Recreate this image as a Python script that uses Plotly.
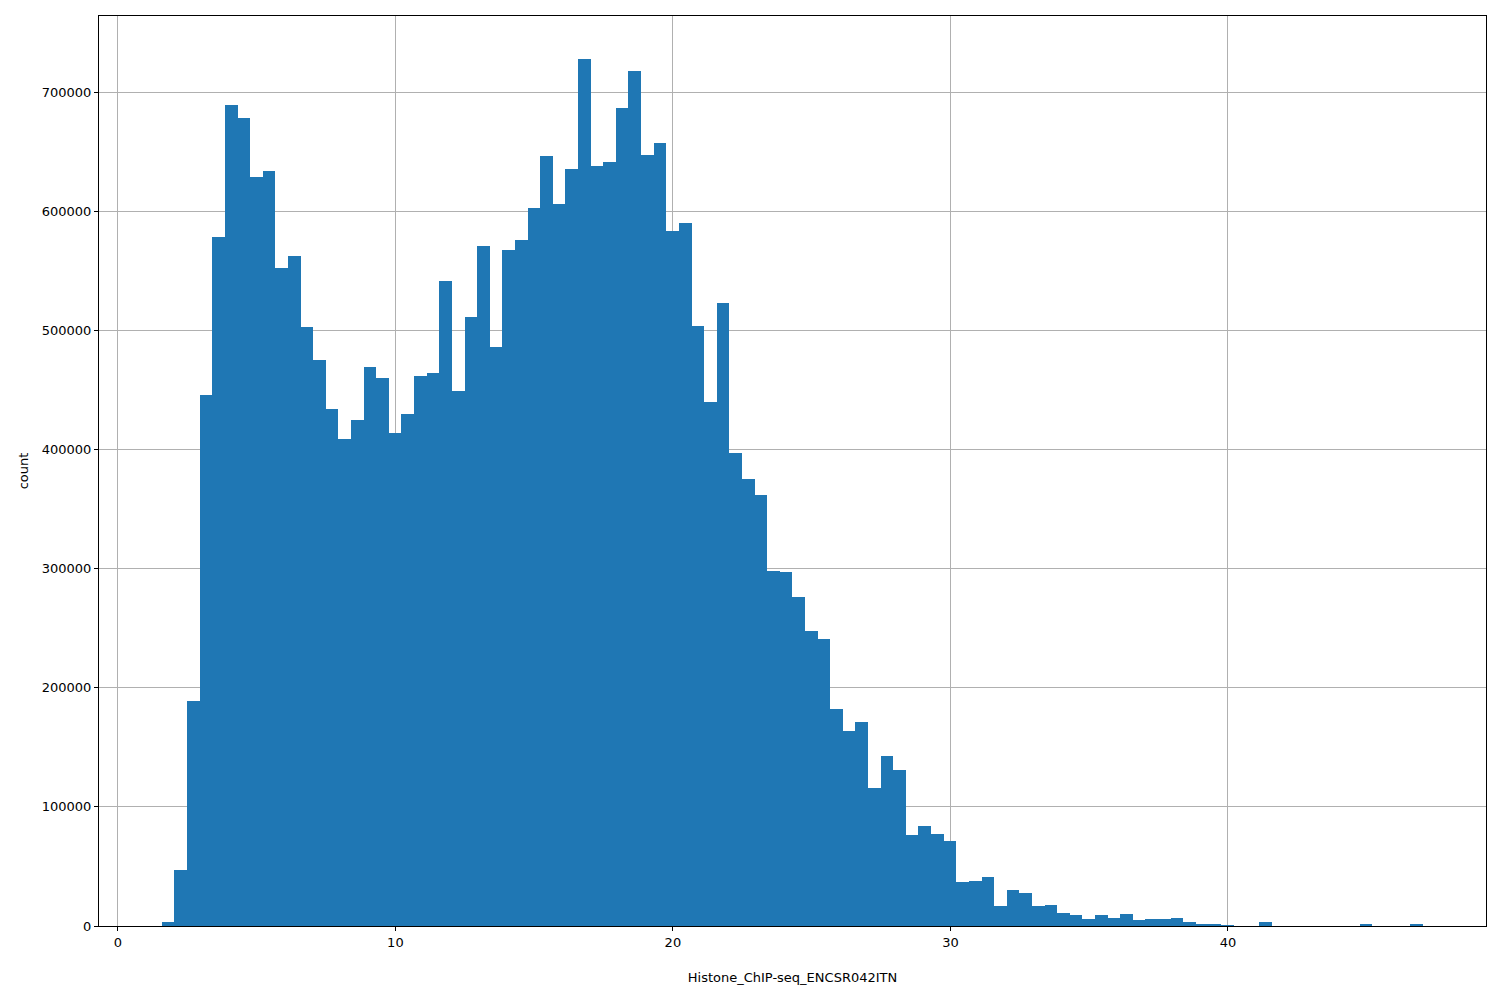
import plotly.graph_objects as go

bin_start = 1.586
bin_width = 0.4544
counts = [
    3000, 47000, 189000, 446000, 578000, 689000, 678000, 629000, 634000, 552000,
    562000, 503000, 475000, 434000, 409000, 425000, 469000, 460000, 414000, 430000,
    462000, 464000, 541000, 449000, 511000, 571000, 486000, 567000, 576000, 603000,
    646000, 606000, 635000, 728000, 638000, 641000, 687000, 718000, 647000, 657000,
    583000, 590000, 504000, 440000, 523000, 397000, 375000, 362000, 298000, 297000,
    276000, 248000, 241000, 182000, 164000, 171000, 116000, 143000, 131000, 76000,
    84000, 77000, 71000, 37000, 38000, 41000, 17000, 30000, 28000, 17000,
    18000, 11000, 9000, 6000, 9000, 7000, 10000, 5000, 6000, 6000,
    7000, 3000, 1000, 1000, 500, 0, 0, 3000, 0, 0,
    0, 0, 0, 0, 0, 1500, 0, 0, 0, 1000,
]
centers = [bin_start + bin_width * (i + 0.5) for i in range(len(counts))]

fig = go.Figure(go.Bar(x=centers, y=counts, width=bin_width,
                       marker=dict(color="#1f77b4", line=dict(width=0))))

axis = dict(showline=True, linecolor="black", linewidth=1, mirror=True,
            showgrid=True, gridcolor="#b0b0b0", gridwidth=1, zeroline=False,
            ticks="outside", ticklen=4, tickcolor="black", automargin=False,
            tickfont=dict(family="DejaVu Sans", size=13, color="black"))
fig.update_xaxes(axis, range=[-0.68, 49.3], tickvals=[0, 10, 20, 30, 40],
                 title=dict(text="Histone_ChIP-seq_ENCSR042ITN", standoff=24,
                            font=dict(family="DejaVu Sans", size=13, color="black")))
fig.update_yaxes(axis, range=[0, 763800], tickvals=list(range(0, 700001, 100000)),
                 tickformat="d",
                 title=dict(text="count", standoff=10,
                            font=dict(family="DejaVu Sans", size=13, color="black")))
fig.update_layout(width=1500, height=1000, plot_bgcolor="white", paper_bgcolor="white",
                  margin=dict(l=91, r=22, t=8, b=82), bargap=0, showlegend=False)
fig.write_html("out.html")
